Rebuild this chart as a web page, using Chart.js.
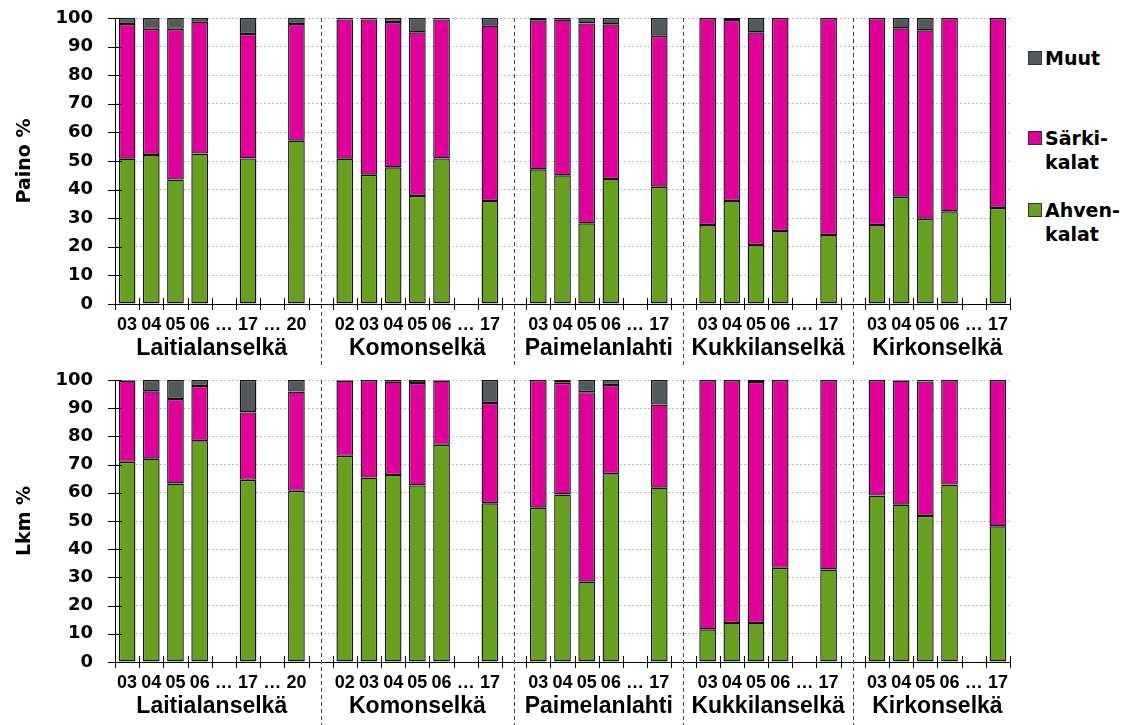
<!DOCTYPE html>
<html>
<head>
<meta charset="utf-8">
<script src="https://cdn.jsdelivr.net/npm/chart.js@4.4.1/dist/chart.umd.min.js"></script>
<style>
body { margin: 0; background: #fff; }
#wrap { position: relative; width: 1130px; height: 725px; overflow: hidden; }
.box { position: absolute; left: 0; width: 1020px; }
#boxTop { top: 0; height: 365px; }
#boxBottom { top: 362px; height: 363px; }
#legend { position: absolute; left: 1026px; top: 0; width: 104px; font: bold 19px "DejaVu Sans", sans-serif; color: #000; }
.item { position: absolute; left: 0; line-height: 24px; }
.sw { position: absolute; left: 2px; top: 5px; width: 12px; height: 12px; border: 1px solid #333; }
.txt { position: absolute; left: 19px; top: 0; white-space: nowrap; }
</style>
</head>
<body>
<div id="wrap">
  <div class="box" id="boxTop"><canvas id="paino"></canvas></div>
  <div class="box" id="boxBottom"><canvas id="lkm"></canvas></div>
  <div id="legend"></div>
</div>
<script>
// x-akselin paikat: '…' = väliin jäävät vuodet, '' = järvien välinen rako
var labels = ['03','04','05','06','…','17','…','20', '',
              '02','03','04','05','06','…','17', '',
              '03','04','05','06','…','17', '',
              '03','04','05','06','…','17', '',
              '03','04','05','06','…','17'];
var groups = ['Laitialanselkä', 'Komonselkä', 'Paimelanlahti', 'Kukkilanselkä', 'Kirkonselkä'];
var groupSizes = [8, 7, 6, 6, 6];

var seriesNames = ['Ahven-kalat', 'Särki-kalat', 'Muut'];
var seriesColors = ['#66a01e', '#e0009a', '#53585b'];

// Paino %
var ahvenPaino = [50.8, 52.1, 43.5, 52.6, null, 50.9, null, 57.1, null,
                  50.8, 45.2, 47.8, 37.8, 50.9, null, 36.0, null,
                  47.1, 45.0, 28.2, 43.7, null, 41.0, null,
                  27.6, 36.0, 20.6, 25.5, null, 24.1, null,
                  27.6, 37.5, 29.8, 32.4, null, 33.6];
var sarkiPaino = [47.1, 44.1, 52.7, 46.1, null, 43.5, null, 40.8, null,
                  48.7, 54.3, 50.8, 57.2, 48.6, null, 61.3, null,
                  52.1, 54.4, 69.9, 54.1, null, 52.8, null,
                  72.4, 63.3, 74.4, 74.5, null, 75.9, null,
                  72.4, 58.9, 65.9, 67.6, null, 66.4];
var muutPaino = [2.1, 3.8, 3.8, 1.3, null, 5.6, null, 2.1, null,
                 0.5, 0.5, 1.4, 5.0, 0.5, null, 2.7, null,
                 0.8, 0.6, 1.9, 2.2, null, 6.2, null,
                 null, 0.7, 5.0, null, null, null, null,
                 null, 3.6, 4.3, null, null, null];

// Lkm %
var ahvenLkm = [71.0, 72.1, 63.3, 78.3, null, 64.6, null, 60.7, null,
                73.1, 65.4, 66.3, 62.6, 77.0, null, 56.3, null,
                54.7, 59.4, 28.5, 66.6, null, 61.8, null,
                11.6, 13.8, 13.8, 33.4, null, 32.8, null,
                59.0, 55.8, 51.8, 62.9, null, 48.1];
var sarkiLkm = [28.8, 23.9, 30.0, 19.6, null, 23.9, null, 35.2, null,
                26.7, 34.6, 33.1, 36.3, 22.8, null, 35.5, null,
                45.3, 39.6, 67.2, 31.6, null, 29.5, null,
                88.4, 86.2, 85.5, 66.6, null, 67.2, null,
                41.0, 44.0, 47.7, 37.1, null, 51.9];
var muutLkm = [0.2, 4.0, 6.7, 2.1, null, 11.5, null, 4.1, null,
               0.2, null, 0.6, 1.1, 0.2, null, 8.2, null,
               null, 1.0, 4.3, 1.8, null, 8.7, null,
               null, null, 0.7, null, null, null, null,
               null, 0.2, 0.5, null, null, null];

var yTicks = [0, 10, 20, 30, 40, 50, 60, 70, 80, 90, 100];

// ristikkäiset tikit, katkoviivat ja järvien nimet
var decor = {
    id: 'decor',
    afterDraw: function(chart) {
        var ctx = chart.ctx;
        var a = chart.chartArea;
        var n = labels.length;
        var w = (a.right - a.left) / n;
        var ys = chart.scales.y;
        ctx.save();
        ctx.strokeStyle = '#000';
        ctx.lineWidth = 1;
        ctx.beginPath();
        for (var i = 0; i <= n; i++) {
            var x = Math.round(a.left + i * w) + 0.5;
            ctx.moveTo(x, a.bottom - 6);
            ctx.lineTo(x, a.bottom + 6);
        }
        yTicks.forEach(function(v) {
            var y = Math.round(ys.getPixelForValue(v)) + 0.5;
            ctx.moveTo(a.left - 7, y);
            ctx.lineTo(a.left + 7, y);
        });
        ctx.stroke();

        // katkoviivat rakojen keskellä
        ctx.strokeStyle = '#444';
        ctx.setLineDash([4, 3]);
        ctx.beginPath();
        labels.forEach(function(l, i) {
            if (l === '') {
                var x = Math.round(a.left + (i + 0.5) * w) + 0.5;
                ctx.moveTo(x, a.top);
                ctx.lineTo(x, chart.height);
            }
        });
        ctx.stroke();
        ctx.setLineDash([]);

        ctx.fillStyle = '#000';
        ctx.font = 'bold 23px "Liberation Sans", Arial, sans-serif';
        ctx.textAlign = 'center';
        ctx.textBaseline = 'middle';
        var start = 0;
        groups.forEach(function(g, k) {
            var cx = a.left + (start + groupSizes[k] / 2) * w;
            ctx.fillText(g, cx, a.bottom + 45);
            start += groupSizes[k] + 1;
        });
        ctx.restore();
    }
};

function buildChart(id, title, ahven, sarki, muut, axisHeight) {
    var data = [ahven, sarki, muut];
    return new Chart(document.getElementById(id), {
        type: 'bar',
        data: {
            labels: labels,
            datasets: data.map(function(d, i) {
                return {
                    label: seriesNames[i],
                    data: d,
                    backgroundColor: seriesColors[i],
                    borderColor: '#111',
                    borderWidth: 1.4,
                    borderSkipped: false,
                    inflateAmount: 0,
                    barPercentage: 0.69,
                    categoryPercentage: 1
                };
            })
        },
        options: {
            responsive: true,
            maintainAspectRatio: false,
            animation: false,
            layout: { padding: { top: 18, right: 10, left: 0, bottom: 0 } },
            plugins: { legend: { display: false }, tooltip: { enabled: false } },
            scales: {
                x: {
                    stacked: true,
                    grid: { display: false, drawTicks: false },
                    border: { display: true, color: '#000', width: 1 },
                    ticks: {
                        autoSkip: false, maxRotation: 0, padding: 10, color: '#000',
                        font: { family: '"Liberation Sans Narrow", "Liberation Sans", Arial', size: 18, weight: 'bold' }
                    },
                    afterFit: function(s) { s.height = axisHeight; }
                },
                y: {
                    stacked: true,
                    min: 0, max: 100,
                    grid: { color: '#bdbdbd', drawTicks: false },
                    border: { display: true, color: '#000', width: 1, dash: [2, 2] },
                    ticks: {
                        stepSize: 10, padding: 22, color: '#000',
                        font: { family: '"DejaVu Sans"', size: 18, weight: 'bold' }
                    },
                    title: {
                        display: true, text: title, color: '#000',
                        padding: { top: 14, bottom: 0 },
                        font: { family: '"DejaVu Sans"', size: 19, weight: 'bold' }
                    },
                    afterFit: function(s) {
                        s.width = 115;
                        s.paddingTop = 0;
                        s.paddingBottom = 0;
                    }
                }
            }
        },
        plugins: [decor]
    });
}

buildChart('paino', 'Paino %', ahvenPaino, sarkiPaino, muutPaino, 61);
buildChart('lkm', 'Lkm %', ahvenLkm, sarkiLkm, muutLkm, 63);

// selite oikealle, ylin sarja ensin
var legendLines = [['Muut'], ['Särki-', 'kalat'], ['Ahven-', 'kalat']];
var legendTops = [46, 126, 198];
var legend = document.getElementById('legend');
[2, 1, 0].forEach(function(s, k) {
    var it = document.createElement('div');
    it.className = 'item';
    it.style.top = legendTops[k] + 'px';
    it.innerHTML = '<span class="sw" style="background:' + seriesColors[s] + '"></span>' +
        '<span class="txt">' + legendLines[k].join('<br>') + '</span>';
    legend.appendChild(it);
});
</script>
</body>
</html>
